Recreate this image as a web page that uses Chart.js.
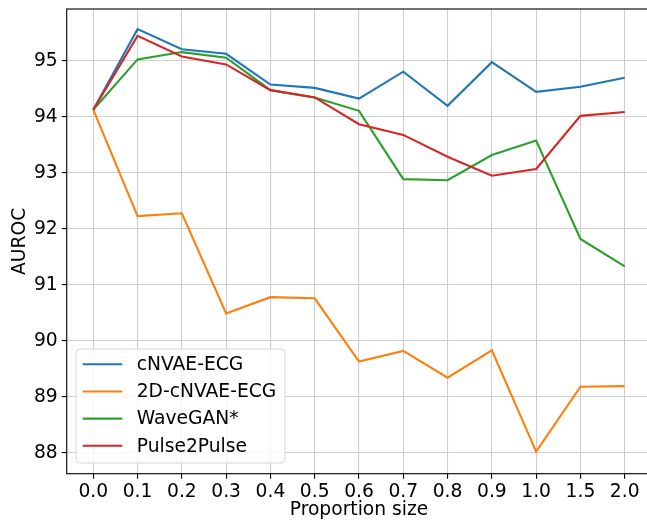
<!DOCTYPE html>
<html>
<head>
<meta charset="utf-8">
<script src="https://cdn.jsdelivr.net/npm/chart.js@4/dist/chart.umd.min.js"></script>
<style>
  html, body { margin: 0; padding: 0; background: #fff; overflow: hidden; }
  #c { display: block; }
</style>
</head>
<body>
<canvas id="c" width="660" height="521"></canvas>
<script>
const categories = ['0.0','0.1','0.2','0.3','0.4','0.5','0.6','0.7','0.8','0.9','1.0','1.5','2.0'];
const cnvaeEcg   = [94.13, 95.57, 95.21, 95.13, 94.58, 94.52, 94.33, 94.81, 94.20, 94.98, 94.45, 94.54, 94.70];
const cnvae2dEcg = [94.13, 92.23, 92.28, 90.49, 90.78, 90.76, 89.63, 89.82, 89.34, 89.83, 88.02, 89.18, 89.19];
const waveGan    = [94.13, 95.03, 95.16, 95.06, 94.48, 94.35, 94.11, 92.89, 92.87, 93.32, 93.58, 91.82, 91.33];
const pulse2Pulse= [94.13, 95.45, 95.08, 94.94, 94.48, 94.35, 93.87, 93.68, 93.29, 92.95, 93.07, 94.02, 94.09];
const seriesNames = ['cNVAE-ECG', '2D-cNVAE-ECG', 'WaveGAN*', 'Pulse2Pulse'];
const yTickValues = [88, 89, 90, 91, 92, 93, 94, 95];

const colors = ['#1f77b4', '#ff7f0e', '#2ca02c', '#d62728'];
const allSeries = [cnvaeEcg, cnvae2dEcg, waveGan, pulse2Pulse];
const FONT = { family: 'DejaVu Sans', size: 18.7 };

const datasets = allSeries.map((vals, k) => ({
  label: seriesNames[k],
  data: vals.map((v, i) => ({ x: i, y: v })),
  borderColor: colors[k],
  backgroundColor: colors[k],
  borderWidth: 2.1,
  pointRadius: 0,
  tension: 0,
  fill: false,
  order: 4 - k
}));

const framePlugin = {
  id: 'frame',
  afterDatasetsDraw(chart) {
    const a = chart.chartArea, ctx = chart.ctx;
    ctx.save();
    ctx.strokeStyle = '#000';
    ctx.lineWidth = 1.1;
    ctx.strokeRect(a.left, a.top, a.right - a.left, a.bottom - a.top);
    ctx.restore();
  }
};

const legendPlugin = {
  id: 'mplLegend',
  afterDatasetsDraw(chart) {
    const ctx = chart.ctx;
    const bx = 76, by = 349, bw = 209, bh = 114;
    ctx.save();
    ctx.beginPath();
    ctx.roundRect(bx, by, bw, bh, 4);
    ctx.fillStyle = 'rgba(255,255,255,0.8)';
    ctx.fill();
    ctx.strokeStyle = '#d6d6d6';
    ctx.lineWidth = 1;
    ctx.stroke();
    const rows = [364.3, 391.5, 418.6, 445.8];
    ctx.font = FONT.size + 'px "DejaVu Sans"';
    ctx.textBaseline = 'middle';
    ctx.textAlign = 'left';
    seriesNames.forEach((name, k) => {
      ctx.beginPath();
      ctx.strokeStyle = colors[k];
      ctx.lineWidth = 2.1;
      ctx.moveTo(82.7, rows[k]);
      ctx.lineTo(122.3, rows[k]);
      ctx.stroke();
      ctx.fillStyle = '#000';
      ctx.fillText(name, 136.7, rows[k] + 1);
    });
    ctx.restore();
  }
};

new Chart(document.getElementById('c'), {
  type: 'line',
  data: { datasets },
  options: {
    responsive: false,
    animation: false,
    devicePixelRatio: 1,
    layout: { padding: { top: 9, right: 8.7, left: 0, bottom: 0 } },
    plugins: { legend: { display: false }, tooltip: { enabled: false } },
    scales: {
      x: {
        type: 'linear',
        min: -0.6,
        max: 12.6,
        afterBuildTicks: s => { s.ticks = categories.map((c, i) => ({ value: i })); },
        afterFit: s => { s.height = 47.3; s.paddingLeft = 0; s.paddingRight = 0; },
        ticks: {
          callback: v => categories[v],
          font: FONT,
          color: '#000',
          padding: 2,
          maxRotation: 0,
          autoSkip: false
        },
        grid: { color: '#cfcfcf', lineWidth: 1.1, tickLength: 5, tickColor: '#000' },
        border: { display: false },
        title: { display: true, text: 'Proportion size', font: FONT, color: '#000', padding: { top: 0, bottom: 0 } }
      },
      y: {
        type: 'linear',
        min: 87.625,
        max: 95.93,
        afterBuildTicks: s => { s.ticks = yTickValues.map(v => ({ value: v })); },
        afterFit: s => { s.width = 66.7; s.paddingTop = 0; s.paddingBottom = 0; },
        ticks: { callback: v => String(v), font: FONT, color: '#000', padding: 4 },
        grid: { color: '#cfcfcf', lineWidth: 1.1, tickLength: 5, tickColor: '#000' },
        border: { display: false },
        title: { display: true, text: 'AUROC', font: FONT, color: '#000', padding: { top: 8.5, bottom: 0 } }
      }
    }
  },
  plugins: [framePlugin, legendPlugin]
});
</script>
</body>
</html>
